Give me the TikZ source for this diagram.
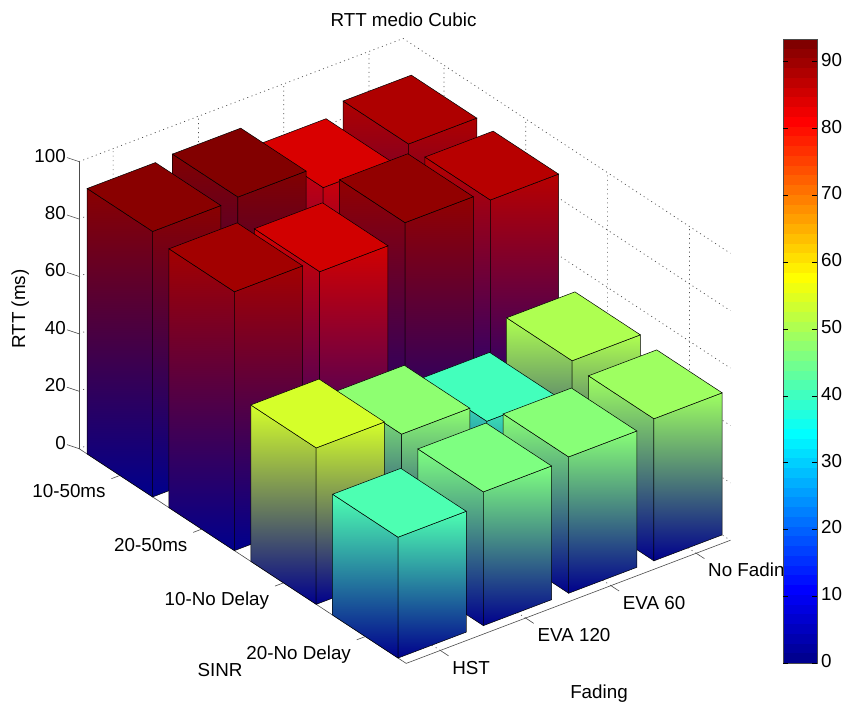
\documentclass[tikz,border=0pt]{standalone}
\usepackage{fontspec}
\setmainfont{Liberation Sans}
\usetikzlibrary{positioning}
\usepackage{xcolor}
\definecolor{gridgrey}{gray}{0.3}
\definecolor{axisgrey}{gray}{0.3}
\definecolor{barbase}{rgb}{0,0,0.55}
\definecolor{topc}{rgb}{0,0,0}

% jet colour map entry for a fraction in [0,1]
\newcommand{\jetcolor}[2]{%
  \pgfmathsetmacro{\jetr}{max(0,min(1,1.5-abs(4*(#2)-3)))}%
  \pgfmathsetmacro{\jetg}{max(0,min(1,1.5-abs(4*(#2)-2)))}%
  \pgfmathsetmacro{\jetb}{max(0,min(1,1.5-abs(4*(#2)-1)))}%
  \edef\jettmp{\noexpand\definecolor{#1}{rgb}{\jetr,\jetg,\jetb}}\jettmp}

% one bar: SINR row, Fading column, height
\newcommand{\rttbar}[3]{%
  \pgfmathsetmacro{\rsa}{#1-0.9}\pgfmathsetmacro{\rsb}{#1-0.1}%
  \pgfmathsetmacro{\rfa}{#2-1}\pgfmathsetmacro{\rfb}{#2-0.2}%
  \pgfmathsetmacro{\rhf}{(#3)/93.4}%
  \jetcolor{topc}{\rhf}%
  \path[barside] (\rsa,\rfa,0) -- (\rsb,\rfa,0) -- (\rsb,\rfa,#3) -- (\rsa,\rfa,#3) -- cycle;
  \path[barside] (\rsb,\rfa,0) -- (\rsb,\rfb,0) -- (\rsb,\rfb,#3) -- (\rsb,\rfa,#3) -- cycle;
  \path[bartop] (\rsa,\rfa,#3) -- (\rsb,\rfa,#3) -- (\rsb,\rfb,#3) -- (\rsa,\rfb,#3) -- cycle;
}

\begin{document}
\begin{tikzpicture}[x=1pt, y=-1pt,
    lbl/.style={font=\fontsize{18.8}{22}\selectfont, inner sep=0pt},
    ticklbl/.style={lbl, yshift=-1.8pt},
    gridline/.style={draw=gridgrey, line width=0.7pt, dash pattern=on 1pt off 3.5pt},
    axisline/.style={draw=axisgrey, line width=0.6pt},
    barside/.style={top color=topc, bottom color=barbase, draw=black, line width=0.5pt},
    bartop/.style={fill=topc, draw=black, line width=0.5pt},
    cbtick/.style={draw=black, line width=0.6pt},
  ]

    \useasboundingbox (0,0) rectangle (847,706);
    \fill[white] (0,0) rectangle (847,706);

    % Title and axis titles
    \node[lbl, anchor=base] (title) at (403.5,27) {RTT medio Cubic};
    \node[lbl, anchor=base, rotate=90] (rttlab) at (25,309) {RTT (ms)};
    \node[lbl, anchor=base] (sinrlab) at (220,676.5) {SINR};
    \node[lbl, anchor=base] (fadlab) at (599,698) {Fading};

    % 3D axes: x = SINR, y = Fading, z = RTT
    \begin{scope}[shift={(79,448.6)}, x={(81.8pt,-53.7pt)}, y={(85.3pt,32.4pt)},
        z={(0pt,2.87pt)}]

      % Back walls and floor grid
      \foreach \gz in {0,20,...,100}{
        \draw[gridline] (0,0,\gz) -- (0,3.8,\gz) -- (4,3.8,\gz);
      }
      \foreach \gf in {0.4,1.4,2.4,3.4}{
        \draw[gridline] (4,\gf,0) -- (0,\gf,0) -- (0,\gf,100);
      }
      \foreach \gs in {0.5,1.5,2.5,3.5}{
        \draw[gridline] (\gs,0,0) -- (\gs,3.8,0) -- (\gs,3.8,100);
      }

      % Axis lines
      \coordinate (orig) at (0,0,0);
      \coordinate (ztop) at (0,0,100);
      \coordinate (front) at (4,0,0);
      \coordinate (right) at (4,3.8,0);
      \draw[axisline] (orig) -- (ztop);
      \draw[axisline] (orig) -- (front) -- (right);

      % RTT ticks
      \foreach \gz in {0,20,...,100}{
        \draw[axisline] (0,0,\gz) -- ++(-12pt,4pt) coordinate (zt\gz);
        \node[ticklbl, anchor=mid east] (zl\gz) at ([xshift=-1pt]zt\gz) {\gz};
      }

      % SINR ticks
      \foreach \gi/\txt in {1/10-50ms, 2/20-50ms, 3/10-No Delay, 4/20-No Delay}{
        \draw[axisline] ({\gi-0.5},0,0) -- ({\gi-0.5},-0.1,0);
        \node[ticklbl, anchor=mid east] (sl\gi) at ({\gi-0.35},-0.31,0) {\txt};
      }

      % Fading ticks
      \foreach \gj/\txt in {1/HST, 2/EVA 120, 3/EVA 60, 4/No Fading}{
        \draw[axisline] (4,{\gj-0.6},0) -- (4.1,{\gj-0.6},0);
        \node[ticklbl, anchor=mid west] (fl\gj) at (4.28,{\gj-0.73},0) {\txt};
      }

      % Bars, back to front
      \foreach \br/\bc/\bh in {1/4/89.1, 1/3/85.2, 2/4/88.3, 1/2/93.2, 2/3/91.7,
          3/4/51.0, 1/1/92.5, 2/2/85.9, 3/3/41.2, 4/4/49.5, 2/1/90.2, 3/2/48.0,
          4/3/47.5, 3/1/54.5, 4/2/46.6, 4/1/42.1}{
        \rttbar{\br}{\bc}{\bh}
      }
    \end{scope}

    % Colour bar
    \foreach \k in {1,...,64}{
      \pgfmathsetmacro{\cbf}{\k/64}
      \jetcolor{cbc}{\cbf}
      \fill[cbc] (783,{663-(\k-1)*9.75}) rectangle (817,{663-\k*9.75-0.3});
    }
    \draw[axisline] (783,39) rectangle (817,663);
    \foreach \v in {0,10,...,90}{
      \draw[cbtick] (783,{663-6.68*\v}) -- ++(5,0);
      \draw[cbtick] (817,{663-6.68*\v}) -- ++(-5,0);
      \node[ticklbl, anchor=mid west] (cb\v) at (821,{663-6.68*\v}) {\v};
    }

  \end{tikzpicture}
\end{document}
